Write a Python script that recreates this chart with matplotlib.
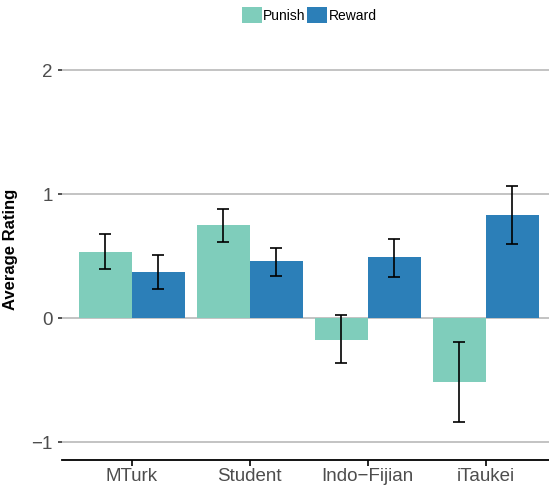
import matplotlib
matplotlib.use("Agg")
import matplotlib.pyplot as plt
import numpy as np

categories = ["MTurk", "Student", "Indo\u2212Fijian", "iTaukei"]
series = ["Punish", "Reward"]
punish_mean = [0.53, 0.75, -0.175, -0.52]
punish_lo = [0.395, 0.615, -0.36, -0.84]
punish_hi = [0.68, 0.88, 0.024, -0.196]
reward_mean = [0.37, 0.46, 0.49, 0.83]
reward_lo = [0.23, 0.34, 0.333, 0.594]
reward_hi = [0.505, 0.567, 0.637, 1.065]
colors = ["#7FCDBB", "#2C7FB8"]
yticks = [-1, 0, 1, 2]

plt.rcParams['font.family'] = ['Liberation Sans', 'DejaVu Sans']

W, H = 549, 488
fig = plt.figure(figsize=(W/100, H/100), dpi=100)
left_px, right_px, top_px, bot_px = 62, 549, 39, 460
ax = fig.add_axes([left_px/W, (H-bot_px)/H, (right_px-left_px)/W, (bot_px-top_px)/H])

x = np.arange(1, len(categories)+1)
bw = 0.45
means = [punish_mean, reward_mean]
los = [punish_lo, reward_lo]
his = [punish_hi, reward_hi]
for i, s in enumerate(series):
    xs = x + (i - 0.5) * bw
    m = np.array(means[i]); lo = np.array(los[i]); hi = np.array(his[i])
    ax.bar(xs, m, width=bw, color=colors[i], label=s, zorder=2)
    ax.errorbar(xs, m, yerr=[m - lo, hi - m], fmt='none', ecolor='black',
                elinewidth=1.2, capsize=4.3, capthick=1.2, zorder=3)

ax.set_xlim(0.41, 4.535)
ax.set_ylim(-1.145, 2.25)
ax.set_yticks(yticks)
ax.set_yticklabels(["\u22121", "0", "1", "2"])
ax.set_xticks(x)
ax.set_xticklabels(categories)
for yt in yticks:
    ax.axhline(yt, color='#BEBEBE', lw=1.3, zorder=1)

for sp in ['top', 'right', 'left']:
    ax.spines[sp].set_visible(False)
ax.spines['bottom'].set_color('black')
ax.spines['bottom'].set_linewidth(1.3)
ax.tick_params(axis='y', length=3, width=1.2, color='#333333', labelsize=13.5,
               labelcolor='#4D4D4D', pad=3.5)
ax.tick_params(axis='x', length=4, width=1.2, color='black', labelsize=13.5,
               labelcolor='#4D4D4D', pad=2)
ax.set_ylabel("Average Rating", fontsize=12, fontweight='bold', labelpad=10)

fig.legend(loc='upper center', bbox_to_anchor=(309/W, 1.0), ncol=2, frameon=False,
           fontsize=10, handlelength=1.45, handleheight=1.45, columnspacing=0.1,
           handletextpad=0.1, borderaxespad=0.1)

fig.savefig("out.png", dpi=100)
